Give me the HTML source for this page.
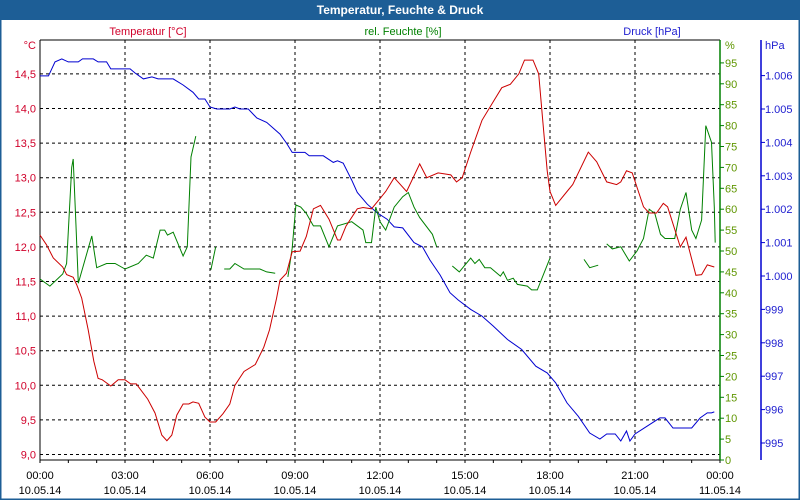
<!DOCTYPE html>
<html><head><meta charset="utf-8"><style>
html,body{margin:0;padding:0;background:#fff}
svg{display:block;font-family:"Liberation Sans",sans-serif}
</style></head><body>
<svg id="chart" width="800" height="500" viewBox="0 0 800 500">
<rect x="0" y="0" width="800" height="500" fill="#fff" stroke="#1d5e96" stroke-width="3"/>
<rect x="0" y="0" width="800" height="20" fill="#1d5e96"/>
<text x="400" y="14" fill="#fff" font-size="12" font-weight="bold" text-anchor="middle">Temperatur, Feuchte &amp; Druck</text>
<text x="148" y="35" fill="#d0002a" font-size="11" text-anchor="middle">Temperatur [°C]</text>
<text x="403" y="35" fill="#008000" font-size="11" text-anchor="middle">rel. Feuchte [%]</text>
<text x="652" y="35" fill="#2020d0" font-size="11" text-anchor="middle">Druck [hPa]</text>
<g id="grid"></g><g id="axes"></g><g id="series"></g>
</svg>
<script>
const tempHours=[0,0.23,0.47,0.8,0.94,1.17,1.3,1.47,1.7,1.9,2.05,2.2,2.5,2.76,3,3.2,3.4,3.8,4.06,4.3,4.48,4.65,4.83,5.05,5.25,5.4,5.6,5.82,6,6.2,6.46,6.7,6.88,7.2,7.6,7.9,8.1,8.35,8.47,8.7,8.9,9.18,9.4,9.65,9.9,10.2,10.5,10.6,10.8,11.2,11.4,11.7,11.9,12.2,12.5,12.94,13.4,13.65,14.05,14.5,14.7,14.9,15.2,15.6,16,16.3,16.6,16.9,17.1,17.4,17.6,17.75,17.9,18,18.2,18.6,18.8,19.35,19.65,20,20.35,20.5,20.7,20.9,21.3,21.5,21.76,22,22.15,22.6,22.8,23.15,23.35,23.55,23.8];
const tempValues=[12.17,12.03,11.84,11.71,11.6,11.56,11.45,11.26,10.8,10.35,10.1,10.08,9.99,10.08,10.08,10.02,10.02,9.8,9.6,9.28,9.2,9.28,9.57,9.73,9.73,9.76,9.74,9.54,9.47,9.47,9.59,9.73,10.0,10.2,10.3,10.55,10.8,11.26,11.52,11.62,11.93,11.94,12.15,12.55,12.6,12.4,12.1,12.1,12.3,12.55,12.57,12.55,12.65,12.8,13.0,12.8,13.2,13.0,13.07,13.04,12.94,13.0,13.37,13.83,14.1,14.3,14.35,14.5,14.7,14.7,14.5,13.8,13.1,12.8,12.6,12.8,12.9,13.37,13.23,12.94,12.9,12.94,13.1,13.07,12.58,12.49,12.49,12.63,12.58,12.0,12.14,11.59,11.6,11.74,11.71];
const humHours=[[0,0.35,0.8,0.94,1.12,1.17,1.27,1.35,1.83,2.0,2.35,2.65,3.0,3.47,3.75,4.0,4.24,4.4,4.5,4.7,5.05,5.2,5.33,5.5],[6.03,6.2],[6.5,6.7,6.88,7.2,7.76,8.0,8.3],[8.75,8.9,9.03,9.2,9.4,9.65,9.9,10.2,10.5,11.0,11.4,11.5,11.7,11.85,12.0,12.2,12.5,12.8,13.0,13.2,13.4,13.85,14.0],[14.55,14.8,15.2,15.35,15.5,15.7,15.9,16.25,16.35,16.5,16.7,16.85,17.2,17.35,17.55,18.0],[19.2,19.4,19.7],[20.0,20.2,20.5,20.8,21.07,21.3,21.5,21.7,21.9,22.06,22.4,22.6,22.8,23.0,23.15,23.35,23.5,23.7,23.8,23.83]];
const humValues=[[43.3,41.6,44.5,47,70,72,56,42.3,53.6,46,47,47,45.7,47,49,48.3,55,55,53.8,54.5,48.8,51,72.5,77.5],[45.5,51],[45.7,45.7,47,45.7,45.7,45,44.7],[43.8,50.7,61,60.5,59,56,56,51,56,57,55,52,52,60.5,57,55,60.5,63,64,60.5,58,54,51],[46.4,45,48.3,47,48,46,46,44,45,43,43.5,42,41.6,40.7,40.7,48.3],[48,46,46.6],[51.7,50.5,51,47.6,50,53,60,59,54,53,53,60,64,55,53,57.4,80,76,60.5,52]];
const presHours=[0,0.3,0.53,0.77,1,1.35,1.5,1.88,2.05,2.35,2.5,3.18,3.35,3.65,3.95,4.17,4.7,5.05,5.4,5.6,5.82,6,6.24,6.7,6.88,7.06,7.35,7.65,8,8.47,8.7,8.9,9.35,9.5,10,10.35,10.5,10.7,11,11.2,11.55,11.9,12.25,12.5,12.8,13.2,13.5,13.76,14.12,14.47,14.76,15.2,15.6,16,16.5,17,17.5,17.9,18.2,18.6,19,19.4,19.76,20,20.3,20.5,20.7,20.82,21,21.88,22.06,22.34,23,23.3,23.55,23.7,23.8];
const presValues=[1005.99,1005.99,1006.41,1006.5,1006.41,1006.41,1006.5,1006.5,1006.41,1006.41,1006.2,1006.2,1006.08,1005.9,1005.96,1005.9,1005.9,1005.72,1005.5,1005.3,1005.3,1005.06,1005.0,1005.0,1005.06,1005.0,1005.0,1004.73,1004.6,1004.25,1003.98,1003.7,1003.7,1003.6,1003.6,1003.4,1003.45,1003.38,1002.87,1002.5,1002.15,1001.89,1001.7,1001.47,1001.44,1001.0,1000.87,1000.48,1000.03,999.5,999.28,999.0,998.8,998.5,998.1,997.8,997.3,997.1,996.8,996.2,995.8,995.3,995.12,995.27,995.27,995.06,995.36,995.06,995.27,995.75,995.75,995.45,995.45,995.75,995.9,995.9,995.93];
const timeLabels=["00:00","03:00","06:00","09:00","12:00","15:00","18:00","21:00","00:00"];
const dateLabels=["10.05.14","10.05.14","10.05.14","10.05.14","10.05.14","10.05.14","10.05.14","10.05.14","11.05.14"];
const tempTicks=[9.0,9.5,10.0,10.5,11.0,11.5,12.0,12.5,13.0,13.5,14.0,14.5];
const humTicks=[0,5,10,15,20,25,30,35,40,45,50,55,60,65,70,75,80,85,90,95];
const presTicks=[995,996,997,998,999,1000,1001,1002,1003,1004,1005,1006];

const NS="http://www.w3.org/2000/svg";
const L=40,R=720,T=40,B=460;
const xS=h=>L+h*(R-L)/24;
const yT=t=>454.5-(t-9)*69.2;
const yH=v=>460-v*4.18;
const yP=p=>443-(p-995)*33.4;
function mk(tag,attrs,parent){const e=document.createElementNS(NS,tag);for(const k in attrs)e.setAttribute(k,attrs[k]);parent.appendChild(e);return e;}
const grid=document.getElementById('grid'),axes=document.getElementById('axes'),series=document.getElementById('series');
tempTicks.forEach(t=>{
  const g=mk('line',{x1:L,x2:R,y1:yT(t),y2:yT(t),stroke:'#000','stroke-dasharray':'3,3'},grid);
  
  
  const tx=mk('text',{x:36,y:yT(t)+4,fill:'#d0002a','font-size':11,'text-anchor':'end'},axes);
  tx.textContent=t.toFixed(1).replace('.',',');
  
  
});
timeLabels.forEach((lab,i)=>{
  const x=xS(i*3);
  if(i>0&&i<8){const g=mk('line',{x1:x,x2:x,y1:T,y2:B,stroke:'#000','stroke-dasharray':'3,3'},grid);
  
  }
  const t1=mk('text',{x:x,y:479,fill:'#000','font-size':11,'text-anchor':'middle'},axes);t1.textContent=lab;
  
  
  const t2=mk('text',{x:x,y:494,fill:'#000','font-size':11,'text-anchor':'middle'},axes);t2.textContent=dateLabels[i];
  
  
});
for(let h=0;h<=24;h++){const x=xS(h);mk('line',{x1:x,x2:x,y1:B,y2:B+3,stroke:'#000'},axes);}
mk('line',{x1:L,x2:R,y1:T,y2:T,stroke:'#000'},axes);
mk('line',{x1:L,x2:R,y1:B,y2:B,stroke:'#000'},axes);
mk('line',{x1:L,x2:L,y1:T,y2:B,stroke:'#000'},axes);
mk('line',{x1:R,x2:R,y1:T,y2:B,stroke:'#008000','stroke-width':1.5},axes);
const tc=mk('text',{x:36,y:49,fill:'#d0002a','font-size':11,'text-anchor':'end'},axes);tc.textContent='°C';
humTicks.forEach(v=>{
  mk('line',{x1:R,x2:R+4,y1:yH(v),y2:yH(v),stroke:'#008000'},axes);
  const tx=mk('text',{x:R+5,y:yH(v)+4,fill:'#5f9600','font-size':11},axes);tx.textContent=v;
  
  
});
const hp=mk('text',{x:R+5,y:49,fill:'#5f9600','font-size':11},axes);hp.textContent='%';
mk('line',{x1:761,x2:761,y1:T,y2:B,stroke:'#0000d0','stroke-width':1.5},axes);
presTicks.forEach(p=>{
  mk('line',{x1:761,x2:765,y1:yP(p),y2:yP(p),stroke:'#0000d0'},axes);
  const tx=mk('text',{x:765,y:yP(p)+4,fill:'#2020d0','font-size':11},axes);
  tx.textContent=p>=1000?'1.'+String(p-1000).padStart(3,'0'):String(p);
  
  
});
const ph=mk('text',{x:765,y:49,fill:'#2020d0','font-size':11},axes);ph.textContent='hPa';
function pts(hs,vs,f){return hs.map((h,i)=>xS(h).toFixed(1)+','+f(vs[i]).toFixed(1)).join(' ');}
const pr=mk('polyline',{points:pts(presHours,presValues,yP),fill:'none',stroke:'#0000d0','stroke-width':1},series);


humHours.forEach((hs,i)=>{
  const p=mk('polyline',{points:pts(hs,humValues[i],yH),fill:'none',stroke:'#008000','stroke-width':1},series);
  
  
});
const tl=mk('polyline',{points:pts(tempHours,tempValues,yT),fill:'none',stroke:'#cc0000','stroke-width':1},series);


</script>
</body></html>
